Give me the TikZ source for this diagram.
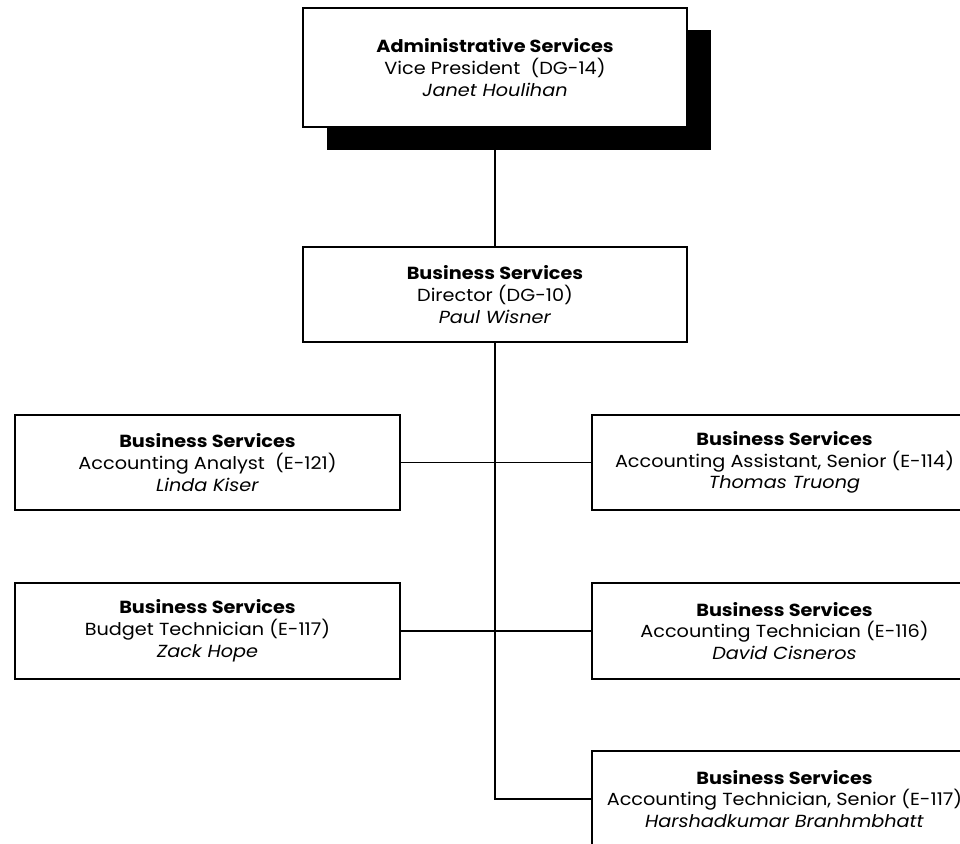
\documentclass[tikz,border=0pt]{standalone}
\usepackage{fontspec}
\setmainfont{Poppins}[FakeStretch=1.1]
\begin{document}
\begin{tikzpicture}[x=1pt,y=-1pt,
  box/.style={draw, line width=1.5pt, fill=white, minimum width=385pt, minimum height=96pt,
    align=center, inner sep=0pt, font=\fontsize{17.5}{21.8}\selectfont},
  shadowbox/.style={fill=black, draw=none},
  conn/.style={line width=1.4pt}]
\useasboundingbox (0,0) rectangle (960,843);
\clip (0,0) rectangle (960,843);
\fill[shadowbox] (327,30) rectangle (711,150);
\node[box, minimum width=384pt, minimum height=119pt] (vp) at (495,67.5)
  {\textbf{Administrative Services}\\Vice President\ \ (DG-14)\\\textit{Janet Houlihan}};
\node[box, minimum width=384pt, minimum height=95pt] (dir) at (495,294.5)
  {\textbf{Business Services}\\Director (DG-10)\\\textit{Paul Wisner}};
\node[box, minimum height=95pt] (l1) at (207.5,462.5)
  {\textbf{Business Services}\\Accounting Analyst\ \ (E-121)\\\textit{Linda Kiser}};
\node[box, minimum height=95pt] (r1) at (784.5,462.5)
  {\textbf{Business Services}\\Accounting Assistant, Senior (E-114)\\\textit{Thomas Truong}};
\node[box, minimum height=96pt] (l2) at (207.5,631)
  {\textbf{Business Services}\\Budget Technician (E-117)\\\textit{Zack Hope}};
\node[box, minimum height=96pt] (r2) at (784.5,631)
  {\textbf{Business Services}\\Accounting Technician (E-116)\\\textit{David Cisneros}};
\node[box, minimum height=96pt] (bot) at (784.5,799)
  {\textbf{Business Services}\\Accounting Technician, Senior (E-117)\\\textit{Harshadkumar Branhmbhatt}};
\draw[conn] (vp.south) -- (dir.north);
\draw[conn] (l1.east) -- (r1.west);
\draw[conn] (l2.east) -- (r2.west);
\draw[conn] (dir.south) |- (bot.west);
\end{tikzpicture}
\end{document}
